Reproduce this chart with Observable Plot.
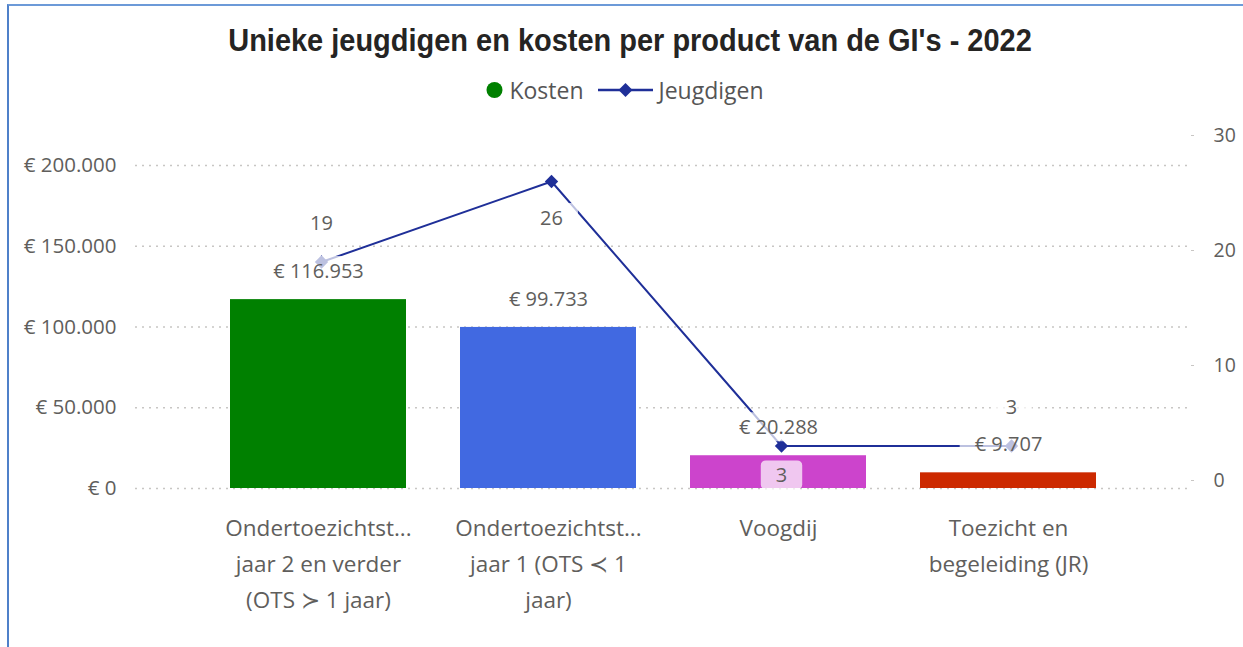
<!DOCTYPE html>
<html><head><meta charset="utf-8">
<script src="https://cdn.jsdelivr.net/npm/d3@7"></script>
<script src="https://cdn.jsdelivr.net/npm/@observablehq/plot@0.6"></script>
<style>
html,body{margin:0;padding:0;background:#fff;}
body{width:1243px;height:647px;position:relative;overflow:hidden;font-family:"Open Sans",sans-serif;}
#frame{position:absolute;left:7px;top:4px;width:1250px;height:660px;border-left:2px solid #4f80c9;border-top:2px solid #6c9ad8;}
#title{position:absolute;left:0;width:1260px;top:20px;text-align:center;font-family:"Liberation Sans","Arial",sans-serif;font-weight:bold;font-size:32px;line-height:40px;color:#252423;transform:scaleX(0.905);transform-origin:630px 0;}
#legend{position:absolute;left:0;width:1250px;top:76px;height:28px;display:flex;justify-content:center;align-items:center;font-size:23px;color:#555;}
#legend .k{margin:0 14px 0 6px;}
#legend .j{margin:0 0 0 6px;}
#chart{position:absolute;left:0;top:0;}
</style></head>
<body>
<div id="frame"></div>
<div id="title">Unieke jeugdigen en kosten per product van de GI's - 2022</div>
<div id="legend">
<svg width="17" height="18"><circle cx="8.5" cy="9" r="8" fill="#008000"/></svg><span class="k">Kosten</span><svg width="55" height="18"><line x1="0" x2="55" y1="9" y2="9" stroke="#1f2f98" stroke-width="2.5"/><path d="M27.5,2 L34.5,9 L27.5,16 L20.5,9Z" fill="#1f2f98"/></svg><span class="j">Jeugdigen</span>
</div>
<div id="chart"></div>
<script>
// ---- data ----
const categories = [
  "Ondertoezichtstelling jaar 2 en verder (OTS ≻ 1 jaar)",
  "Ondertoezichtstelling jaar 1 (OTS ≺ 1 jaar)",
  "Voogdij",
  "Toezicht en begeleiding (JR)"
];
const tickLabels = [
  "Ondertoezichtst...\njaar 2 en verder\n(OTS ≻ 1 jaar)",
  "Ondertoezichtst...\njaar 1 (OTS ≺ 1\njaar)",
  "Voogdij",
  "Toezicht en\nbegeleiding (JR)"
];
const kosten = [116953, 99733, 20288, 9707];
const jeugdigen = [19, 26, 3, 3];
const barColors = ["#008000", "#4169e1", "#cc44cc", "#cc2900"];
const costTicks = [0, 50000, 100000, 150000, 200000];
const jeugdTicks = [0, 10, 20, 30];

// ---- layout ----
const W = 1243, H = 647;
const yTop = 165, yBottom = 488, xLeft = 135, xRight = 1190;
const jZeroPx = 480, jTopPx = 135; // right axis: 0 and 30
const costPerPx = 200000 / (yBottom - yTop);
const toCost = d3.scaleLinear().domain([0, 30]).range([(yBottom - jZeroPx) * costPerPx, (yBottom - jTopPx) * costPerPx]);

const loc = d3.formatLocale({decimal: ",", thousands: ".", grouping: [3], currency: ["€ ", ""]});
const eur = loc.format("$,.0f");

const table = categories.map((c, i) => ({cat: c, kosten: kosten[i], jeugd: jeugdigen[i], jy: toCost(jeugdigen[i]), i}));
const gray = "#605e5c";
const lineColor = "#1f2f98";

const plot = Plot.plot({
  width: W, height: H,
  marginTop: yTop, marginBottom: H - yBottom, marginLeft: xLeft, marginRight: W - xRight,
  style: {fontFamily: "'Open Sans', sans-serif", color: gray, background: "transparent", overflow: "visible"},
  x: {domain: categories, paddingInner: 0.235, paddingOuter: 0.408, axis: null, label: null},
  y: {domain: [0, 200000], axis: null, label: null},
  color: {domain: categories, range: barColors},
  marks: [
    Plot.gridY(costTicks, {stroke: "#c8c6c4", strokeOpacity: 1, strokeDasharray: "2,5", strokeWidth: 1.5}),
    Plot.axisY(costTicks, {tickSize: 0, tickPadding: 19, tickFormat: d => eur(d), fontSize: 20.5, fill: gray, label: null}),
    Plot.axisY(jeugdTicks.map(v => toCost(v)), {anchor: "right", tickSize: 3, tickPadding: 20, stroke: "#c8c6c4", tickFormat: d => String(Math.round(toCost.invert(d))), fontSize: 19.5, fill: gray, label: null}),
    Plot.axisX(categories, {tickSize: 0, tickPadding: 22, tickFormat: c => tickLabels[categories.indexOf(c)], fontSize: 22.5, lineHeight: 1.6, fill: gray, label: null}),
    Plot.barY(table, {x: "cat", y: "kosten", fill: "cat"}),
    Plot.line(table, {x: "cat", y: "jy", stroke: lineColor, strokeWidth: 2, dx: 3}),
    Plot.dot(table, {x: "cat", y: "jy", symbol: "diamond2", r: 6, fill: lineColor, dx: 3}),
    Plot.text(table, {x: "cat", y: "kosten", text: d => eur(d.kosten), dy: -28, fontSize: 20, fill: gray, ariaDescription: "lbl"}),
    Plot.text(table, {filter: d => d.i === 0 || d.i === 3, x: "cat", y: "jy", text: d => String(d.jeugd), dy: -38, dx: 3, fontSize: 20, fill: gray, ariaDescription: "lbl"}),
    Plot.text(table, {filter: d => d.i === 1, x: "cat", y: "jy", text: d => String(d.jeugd), dy: 37, dx: 3, fontSize: 20, fill: gray, ariaDescription: "lbl"}),
    Plot.text(table, {filter: d => d.i === 2, x: "cat", y: "jy", text: d => String(d.jeugd), dy: 30, dx: 3, fontSize: 20, fill: gray, ariaDescription: "lbl"})
  ]
});
document.getElementById("chart").append(plot);

// semi-transparent label backgrounds (as in the original)
plot.querySelectorAll('g[aria-description="lbl"] text').forEach(t => {
  const b = t.getBBox();
  const r = document.createElementNS("http://www.w3.org/2000/svg", "rect");
  r.setAttribute("x", b.x - 15);
  r.setAttribute("y", b.y - 1);
  r.setAttribute("width", b.width + 30);
  r.setAttribute("height", b.height + 2);
  r.setAttribute("rx", 5);
  r.setAttribute("fill", "#ffffff");
  r.setAttribute("fill-opacity", 0.7);
  r.setAttribute("stroke", "none");
  const tr = t.getAttribute("transform");
  if (tr) r.setAttribute("transform", tr);
  t.parentNode.insertBefore(r, t);
});
</script>
</body></html>
